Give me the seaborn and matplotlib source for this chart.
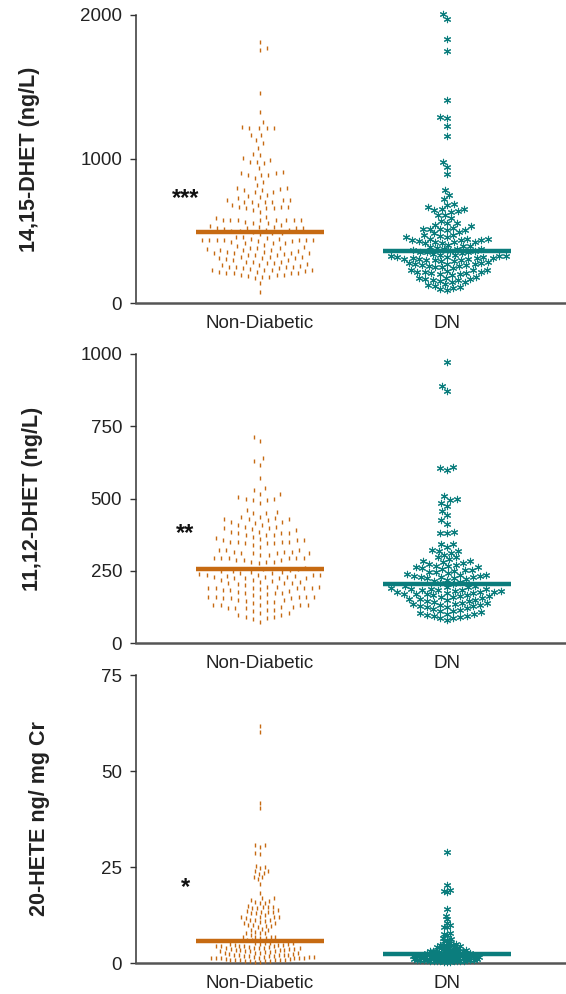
import warnings
warnings.filterwarnings("ignore")
import numpy as np
import pandas as pd
import matplotlib
matplotlib.use("Agg")
import matplotlib.pyplot as plt
import seaborn as sns

# ---------------- data ----------------
groups = ["Non-Diabetic", "DN"]
ylabels = ["14,15-DHET (ng/L)", "11,12-DHET (ng/L)", "20-HETE ng/ mg Cr"]
yticks = [[0, 1000, 2000], [0, 250, 500, 750, 1000], [0, 25, 50, 75]]
ylims = [(0, 2000), (0, 1000), (0, 75)]
signif = ["***", "**", "*"]
signif_y = [728, 378, 19.7]

nd_1415 = [681, 576, 484, 380, 322, 218,
           739, 669, 576, 519, 438, 380, 287, 206,
           912, 820, 715, 657, 576, 461, 380, 322, 264, 206,
           900, 796, 715, 657, 600, 530, 438, 368, 310, 241, 194,
           1225, 993, 889, 785, 704, 576, 507, 414, 345, 275, 229, 188,
           1774, 1213, 1167, 1028, 982, 866, 785, 704, 576, 519, 438, 356, 287, 241, 183,
           1757, 1456, 1329, 1213, 1132, 1074, 1005, 935, 843, 750, 681, 565, 495, 414, 345, 287, 229, 171, 79,
           1810, 1213, 1167, 1109, 1035, 970, 889, 773, 704, 576, 461, 368, 299, 229, 137,
           1218, 982, 889, 773, 704, 634, 553, 438, 356, 252, 183,
           1255, 905, 789, 715, 646, 553, 449, 345, 252, 194,
           796, 727, 657, 576, 507, 438, 368, 310, 252, 194,
           745, 669, 576, 519, 438, 333, 264, 211,
           669, 588, 519, 438, 333, 218,
           312, 276, 541, 527, 512, 498, 487, 476, 258, 236, 534, 503, 428, 445,
           222, 303, 430, 415, 396, 372, 350, 336, 318, 296, 270, 248, 232, 205,
           339, 361, 442, 421, 404, 387]

dn_1415 = [2005, 1970, 1831, 1752, 1410, 1290, 1282, 1232, 1162, 982, 947, 896,
           785, 750, 720,
           688, 681, 664, 650, 650, 646, 641, 634, 611, 611, 588,
           570, 558, 553, 542, 535, 523, 516, 516, 512, 507, 507, 495, 484, 472, 465, 456,
           446, 438, 432, 427, 441, 423, 435,
           414, 377, 425, 362, 447, 393, 351, 470, 404, 437, 336, 458, 382, 419,
           372, 333, 355, 388, 319, 358, 397, 343, 307, 376, 346, 290, 366, 351, 328,
           327, 315, 322, 305, 298, 318, 310, 293, 324, 301, 312, 296, 308,
           282, 270, 263, 276, 255, 248, 268, 259, 244, 273, 251, 266, 279,
           232, 220, 214, 226, 205, 198, 218, 209, 194, 229, 201, 212,
           183, 171, 165, 158, 176, 149, 162, 144, 168, 153,
           131, 118, 105, 96, 124, 112, 88]

nd_1112 = [397, 359, 316, 293, 235, 195, 160, 131,
           429, 391, 356, 310, 287, 229, 195, 160, 131,
           429, 382, 350, 304, 281, 218, 189, 160, 131,
           515, 460, 420, 379, 345, 310, 281, 235, 206, 172, 126, 97,
           500, 449, 408, 374, 350, 322, 293, 247, 218, 183, 154, 120, 91,
           631, 535, 495, 437, 402, 374, 345, 316, 287, 241, 212, 178, 143, 114, 85,
           699, 616, 572, 529, 485, 431, 397, 368, 339, 304, 276, 229, 189, 154, 120, 74,
           714, 639, 495, 437, 402, 374, 345, 322, 293, 241, 206, 172, 143, 114, 82,
           500, 451, 416, 385, 356, 322, 293, 224, 183, 149, 120, 89,
           504, 420, 379, 333, 293, 235, 195, 160, 126, 97,
           515, 425, 385, 350, 310, 281, 224, 189, 149, 103,
           429, 393, 350, 310, 287, 229, 189, 160, 131,
           356, 316, 293, 224, 189, 160, 131,
           233, 211, 362, 259, 255, 250, 248, 245, 410, 455,
           226, 215, 203, 192, 181, 174, 166, 155, 138, 112, 105, 199,
           231, 208, 186, 170, 146, 238, 256, 252, 236]

dn_1112 = [971, 890, 873, 610, 604, 598, 508, 500, 495, 483, 474, 458, 443, 425, 412,
           385, 382, 379, 342, 333, 322, 319, 312, 296, 289, 285,
           273, 262, 258, 252, 268, 277, 255, 281, 266,
           247, 241, 235, 229, 224, 218, 244, 238, 231, 226, 249, 221, 233, 227, 216,
           206, 228, 236, 252, 262, 271, 283, 296, 305, 318, 342, 211,
           203, 195, 186, 178, 169, 150, 133,
           197, 188, 182, 176, 193, 185, 179, 172, 196, 190, 174, 184, 187, 180,
           167, 158, 151, 146, 163, 155, 142, 169, 160, 148, 153, 165,
           137, 128, 121, 115, 134, 125, 118, 112, 131, 139, 123,
           106, 98, 92, 85, 102, 95, 88, 79, 104, 91,
           170, 144, 127, 109, 162, 177, 135, 99]

nd_20hete = [61.8, 60.1, 41.6, 40.3, 30.7, 30.3, 30.7, 28.4, 28.6, 25.3,
             25.1, 24.7, 24.0, 24.0, 23.5, 23.2, 22.5, 22.3, 21.8, 20.7,
             18.1, 16.8, 16.8, 16.4, 16.2, 16.0, 15.7, 15.7, 14.8, 14.7,
             14.7, 14.5, 14.2, 14.2, 13.8, 13.5, 13.4, 13.4, 13.4, 12.9,
             12.9, 12.5, 12.1, 12.1, 11.9, 11.9, 11.6, 11.2, 11.2, 11.2,
             11.0, 10.8, 10.3, 10.3, 9.9, 9.9, 9.7, 9.6, 9.5, 8.8,
             8.6, 8.6, 8.2, 7.9, 7.7, 7.7, 7.3, 6.9, 6.9, 6.9,
             6.9, 6.4, 6.4, 6.0, 6.0,
             4.7, 4.3, 4.3, 4.3, 3.8, 3.8, 3.8, 3.6, 3.6, 3.4, 3.4, 2.7, 2.5, 2.3,
             2.1, 2.1, 1.6, 1.6, 1.6, 1.2, 1.2, 1.2, 1.2, 0.8, 0.8, 0.8, 0.6,
             5.3, 5.1, 4.9, 5.2, 4.5, 4.8, 4.1, 4.4, 3.9, 3.1, 3.3, 2.9, 3.0,
             2.6, 2.8, 2.4, 1.9, 2.0, 1.8, 1.4, 1.5, 1.0, 0.9, 0.5, 0.4, 0.3,
             5.0, 4.6, 4.0, 3.5, 3.2, 2.2, 1.7, 1.3, 1.1, 0.7, 0.2,
             5.3, 4.2, 3.7, 2.7, 2.0, 1.4, 0.9, 0.5, 4.9, 3.0, 1.9]

dn_20hete = [29.0, 20.3, 19.0, 18.8, 18.6, 14.0, 12.2, 11.4, 10.3, 9.9, 9.5, 9.4,
             7.7, 7.6, 7.2, 6.4, 6.2, 6.0,
             5.6, 5.1, 4.9, 4.7, 4.3, 4.3, 4.2, 4.4, 5.3, 4.6, 4.1,
             3.9, 3.8, 3.6, 3.4, 3.2, 3.1, 3.0, 2.9, 2.8, 2.7, 2.6, 2.5, 3.5, 3.3,
             2.9, 2.6, 3.7, 2.4, 2.8, 3.1, 2.5, 2.7,
             2.2, 2.1, 1.9, 2.0, 1.7, 1.8, 1.5, 1.6, 1.4, 1.2, 1.3, 1.1, 0.9, 1.0,
             0.8, 0.6, 0.7, 0.5, 0.3, 0.4, 2.2, 1.9, 1.6, 1.3, 1.0, 0.7, 0.4, 2.1,
             1.8, 1.5, 1.2, 0.9, 0.6, 0.3, 2.0, 1.7, 1.4, 1.1, 0.8, 0.5, 0.2, 1.9,
             1.6, 1.2, 0.9, 0.6, 2.2, 1.5, 1.0, 0.4, 1.8]

panels = [(nd_1415, dn_1415), (nd_1112, dn_1112), (nd_20hete, dn_20hete)]

# ---------------- style ----------------
sns.set_theme(style="ticks")
plt.rcParams['font.family'] = ['Liberation Sans', 'DejaVu Sans']

ORANGE = "#c66a12"
TEAL = "#0b7d7d"
TXT = "#222222"

W, H = 566, 994
fig = plt.figure(figsize=(W / 100, H / 100), dpi=100)

# axes boxes in pixels: (left, top, right, bottom)
boxes_px = [(136, 15, 566, 303), (136, 354, 566, 643), (136, 675, 566, 963)]
# swarm layout marker sizes (points) per panel: (Non-Diabetic, DN)
layout_sizes = [(4.0, 3.8), (4.2, 4.0), (2.4, 1.5)]
# y-label right edge (pixels)
label_right_px = [40, 43, 50]

swarm_colls = []
for i, (nd, dn) in enumerate(panels):
    l, t, r, b = boxes_px[i]
    ax = fig.add_axes([l / W, 1 - b / H, (r - l) / W, (b - t) / H])
    df_nd = pd.DataFrame({"group": groups[0], "value": nd})
    df_dn = pd.DataFrame({"group": groups[1], "value": dn})

    for sub, col in ((df_nd, ORANGE), (df_dn, TEAL)):
        sns.boxplot(data=sub, x="group", y="value", order=groups, width=0.68,
                    showbox=False, showcaps=False, showfliers=False,
                    whiskerprops={"visible": False},
                    medianprops={"color": col, "linewidth": 3.2, "zorder": 6,
                                 "solid_capstyle": "butt"},
                    ax=ax)

    n0 = len(ax.collections)
    sns.swarmplot(data=df_nd, x="group", y="value", order=groups, color=ORANGE,
                  marker="|", size=layout_sizes[i][0], linewidth=1.0,
                  warn_thresh=1, ax=ax)
    c_nd = ax.collections[n0:]
    n1 = len(ax.collections)
    sns.swarmplot(data=df_dn, x="group", y="value", order=groups, color=TEAL,
                  marker=(6, 2, 0), size=layout_sizes[i][1], linewidth=0.8,
                  warn_thresh=1, ax=ax)
    c_dn = ax.collections[n1:]
    swarm_colls += [(c, 2.9 ** 2) for c in c_nd] + [(c, 4.6 ** 2) for c in c_dn]

    ax.set_xlim(-0.663, 1.636)
    ax.set_ylim(*ylims[i])
    ax.set_yticks(yticks[i])
    ax.set_xlabel("")
    ax.set_ylabel(ylabels[i], fontsize=15.5, fontweight="bold", color=TXT)
    ax.yaxis.set_label_coords((label_right_px[i] - l) / (r - l), 0.5)
    sns.despine(ax=ax)
    ax.spines["left"].set_color("#333333")
    ax.spines["left"].set_linewidth(1.1)
    ax.spines["bottom"].set_color("#555555")
    ax.spines["bottom"].set_linewidth(1.8)
    ax.tick_params(axis="y", direction="out", length=4, width=1, color="#333333",
                   labelsize=13.5, labelcolor=TXT, pad=6)
    ax.tick_params(axis="x", length=0, labelsize=13.5, labelcolor=TXT, pad=9)
    ax.text(-0.40, signif_y[i], signif[i], ha="center", va="center",
            fontsize=17, fontweight="bold", color="#111111")
    for c in ax.collections:
        c.set_clip_on(False)

# compute swarm layout with final geometry, then freeze and shrink markers
fig.canvas.draw()
for c, s in swarm_colls:
    if "draw" in c.__dict__:
        del c.draw
    c.set_sizes([s])

fig.savefig("out.png", dpi=100)
